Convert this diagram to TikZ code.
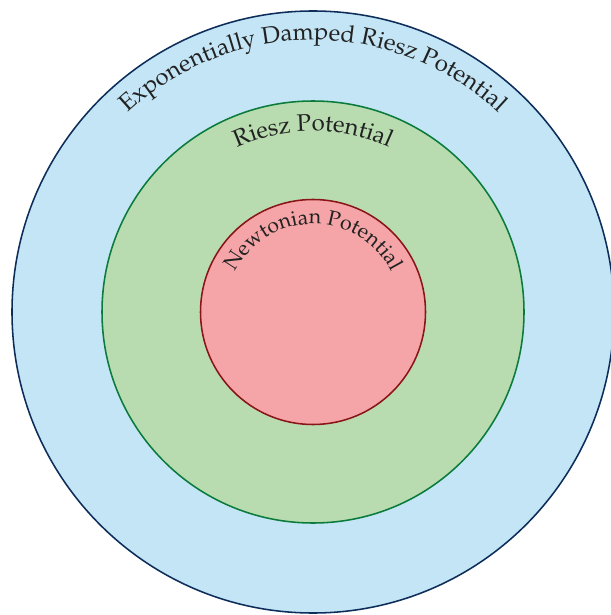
\documentclass[tikz,border=0pt]{standalone}
\usepackage[T1]{fontenc}
\usepackage{mathpazo}
\usetikzlibrary{decorations.text}
\definecolor{dampfill}{HTML}{C3E5F5}
\definecolor{dampline}{HTML}{0D2E5A}
\definecolor{rieszfill}{HTML}{B8DCB0}
\definecolor{rieszline}{HTML}{0B7B3C}
\definecolor{newtfill}{HTML}{F5A5A7}
\definecolor{newtline}{HTML}{8A1518}
\definecolor{labelgray}{HTML}{222222}

\begin{document}
\begin{tikzpicture}[
  x=0.025cm, y=0.025cm,
  ring/.style={line width=1.1pt},
  arclabel/.style={decorate,decoration={text along path,text align=center,text color=labelgray,text={#1}}}
]

\useasboundingbox (0,0) rectangle (610,-615);
\coordinate (c) at (313,-312);

\draw[ring,draw=dampline,fill=dampfill] (c) circle[radius=301];
\draw[ring,draw=rieszline,fill=rieszfill] (c) circle[radius=211];
\draw[ring,draw=newtline,fill=newtfill] (c) circle[radius=112.5];

\path[arclabel={|\fontsize{17}{20}\selectfont|Exponentially Damped Riesz Potential}]
  (c) ++(180:272) arc[start angle=180,end angle=0,radius=272];
\path[arclabel={|\fontsize{17}{20}\selectfont|Riesz Potential}]
  (c) ++(180:181) arc[start angle=180,end angle=0,radius=181];
\path[arclabel={|\fontsize{15}{18}\selectfont|Newtonian Potential}]
  (c) ++(180:88) arc[start angle=180,end angle=0,radius=88];

\end{tikzpicture}
\end{document}
